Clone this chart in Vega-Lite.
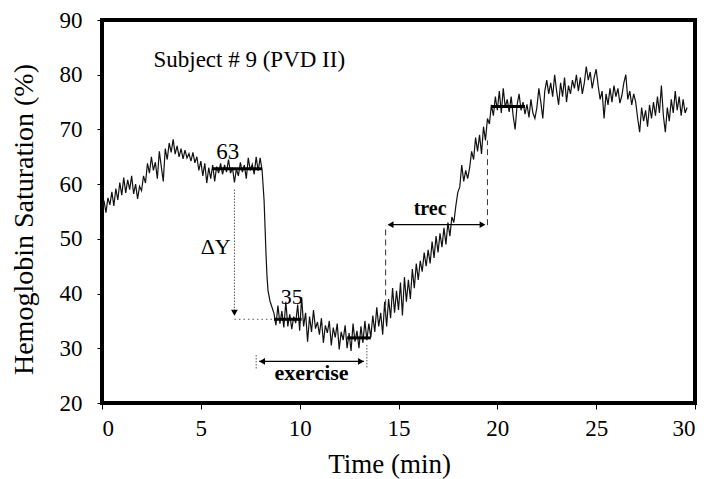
{
  "$schema": "https://vega.github.io/schema/vega-lite/v6.json",
  "width": 593,
  "height": 383,
  "autosize": "none",
  "padding": {"left": 102, "top": 20, "right": 17, "bottom": 76},
  "background": "white",
  "config": {
    "view": {"stroke": "black", "strokeWidth": 4},
    "font": "Liberation Serif, Times New Roman, serif",
    "text": {"font": "Liberation Serif, Times New Roman, serif"},
    "axis": {"domain": false, "grid": false, "tickColor": "black", "labelColor": "black", "titleColor": "black", "labelFont": "Liberation Serif, Times New Roman, serif", "titleFont": "Liberation Serif, Times New Roman, serif", "titleFontWeight": "normal"}
  },
  "datasets": {
    "trace": [
      {"t":0.0,"v":55.5},{"t":0.1,"v":57.0},{"t":0.2,"v":54.8},{"t":0.3,"v":57.5},{"t":0.4,"v":56.2},{"t":0.5,"v":58.6},{"t":0.6,"v":56.0},{"t":0.7,"v":59.2},{"t":0.8,"v":57.1},{"t":0.9,"v":60.3},
      {"t":1.0,"v":58.0},{"t":1.1,"v":61.2},{"t":1.2,"v":58.4},{"t":1.3,"v":60.8},{"t":1.4,"v":59.0},{"t":1.5,"v":61.5},{"t":1.6,"v":58.2},{"t":1.7,"v":60.0},{"t":1.8,"v":57.3},{"t":1.9,"v":59.6},
      {"t":2.0,"v":58.8},{"t":2.1,"v":61.5},{"t":2.2,"v":60.2},{"t":2.3,"v":63.8},{"t":2.4,"v":62.0},{"t":2.5,"v":65.0},{"t":2.6,"v":62.5},{"t":2.7,"v":64.0},{"t":2.8,"v":61.0},{"t":2.9,"v":66.0},
      {"t":3.0,"v":63.2},{"t":3.1,"v":60.5},{"t":3.2,"v":66.5},{"t":3.3,"v":64.5},{"t":3.4,"v":67.5},{"t":3.5,"v":65.8},{"t":3.6,"v":68.2},{"t":3.7,"v":65.5},{"t":3.8,"v":67.0},{"t":3.9,"v":65.0},
      {"t":4.0,"v":66.5},{"t":4.1,"v":64.6},{"t":4.2,"v":66.2},{"t":4.3,"v":64.8},{"t":4.4,"v":65.6},{"t":4.5,"v":64.2},{"t":4.6,"v":65.8},{"t":4.7,"v":63.9},{"t":4.8,"v":65.0},{"t":4.9,"v":62.5},
      {"t":5.0,"v":64.2},{"t":5.1,"v":61.5},{"t":5.2,"v":63.8},{"t":5.3,"v":60.2},{"t":5.4,"v":63.0},{"t":5.5,"v":61.0},{"t":5.6,"v":63.5},{"t":5.7,"v":60.5},{"t":5.8,"v":63.2},{"t":5.9,"v":62.0},
      {"t":6.0,"v":63.8},{"t":6.1,"v":61.8},{"t":6.2,"v":63.5},{"t":6.3,"v":62.2},{"t":6.4,"v":64.5},{"t":6.5,"v":62.0},{"t":6.6,"v":63.0},{"t":6.7,"v":60.3},{"t":6.8,"v":62.8},{"t":6.9,"v":61.5},
      {"t":7.0,"v":64.0},{"t":7.1,"v":62.2},{"t":7.2,"v":63.5},{"t":7.3,"v":61.0},{"t":7.4,"v":64.8},{"t":7.5,"v":62.5},{"t":7.6,"v":63.6},{"t":7.7,"v":61.8},{"t":7.8,"v":65.0},{"t":7.9,"v":62.4},
      {"t":8.0,"v":64.8},{"t":8.1,"v":62.5},{"t":8.2,"v":57.0},{"t":8.25,"v":52.0},{"t":8.3,"v":47.0},{"t":8.35,"v":43.0},{"t":8.4,"v":40.5},{"t":8.5,"v":38.6},{"t":8.6,"v":37.5},{"t":8.7,"v":36.4},{"t":8.8,"v":34.2},{"t":8.9,"v":37.8},
      {"t":9.0,"v":34.5},{"t":9.1,"v":36.8},{"t":9.2,"v":33.8},{"t":9.3,"v":38.5},{"t":9.4,"v":34.0},{"t":9.5,"v":36.2},{"t":9.6,"v":33.5},{"t":9.7,"v":35.8},{"t":9.8,"v":34.6},{"t":9.9,"v":38.0},
      {"t":10.0,"v":33.2},{"t":10.1,"v":39.3},{"t":10.2,"v":34.0},{"t":10.3,"v":36.5},{"t":10.4,"v":31.2},{"t":10.5,"v":35.8},{"t":10.6,"v":33.0},{"t":10.7,"v":37.0},{"t":10.8,"v":33.6},{"t":10.9,"v":34.8},
      {"t":11.0,"v":32.5},{"t":11.1,"v":35.5},{"t":11.2,"v":31.0},{"t":11.3,"v":34.2},{"t":11.4,"v":32.8},{"t":11.5,"v":35.0},{"t":11.6,"v":30.5},{"t":11.7,"v":33.8},{"t":11.8,"v":32.0},{"t":11.9,"v":34.5},
      {"t":12.0,"v":29.8},{"t":12.1,"v":33.0},{"t":12.2,"v":31.5},{"t":12.3,"v":34.2},{"t":12.4,"v":30.0},{"t":12.5,"v":32.8},{"t":12.6,"v":29.5},{"t":12.7,"v":34.5},{"t":12.8,"v":31.2},{"t":12.9,"v":33.2},
      {"t":13.0,"v":30.0},{"t":13.1,"v":34.0},{"t":13.2,"v":31.0},{"t":13.3,"v":35.0},{"t":13.4,"v":31.5},{"t":13.5,"v":34.5},{"t":13.6,"v":32.0},{"t":13.7,"v":36.0},{"t":13.8,"v":33.0},{"t":13.9,"v":37.5},
      {"t":14.0,"v":34.0},{"t":14.1,"v":36.5},{"t":14.2,"v":32.5},{"t":14.3,"v":38.5},{"t":14.4,"v":34.0},{"t":14.5,"v":39.0},{"t":14.6,"v":35.5},{"t":14.7,"v":41.0},{"t":14.8,"v":36.5},{"t":14.9,"v":40.5},
      {"t":15.0,"v":37.0},{"t":15.1,"v":42.0},{"t":15.2,"v":36.0},{"t":15.3,"v":43.0},{"t":15.4,"v":38.5},{"t":15.5,"v":42.5},{"t":15.6,"v":39.0},{"t":15.7,"v":44.5},{"t":15.8,"v":41.0},{"t":15.9,"v":45.5},
      {"t":16.0,"v":42.5},{"t":16.1,"v":46.0},{"t":16.2,"v":44.0},{"t":16.3,"v":47.5},{"t":16.4,"v":45.0},{"t":16.5,"v":48.0},{"t":16.6,"v":45.5},{"t":16.7,"v":49.5},{"t":16.8,"v":46.5},{"t":16.9,"v":50.5},
      {"t":17.0,"v":47.5},{"t":17.1,"v":51.0},{"t":17.2,"v":48.5},{"t":17.3,"v":52.0},{"t":17.4,"v":49.0},{"t":17.5,"v":53.0},{"t":17.6,"v":50.5},{"t":17.7,"v":54.0},{"t":17.8,"v":53.0},{"t":17.9,"v":56.0},
      {"t":18.0,"v":58.5},{"t":18.1,"v":59.5},{"t":18.2,"v":63.5},{"t":18.3,"v":60.5},{"t":18.4,"v":62.5},{"t":18.5,"v":61.0},{"t":18.6,"v":63.0},{"t":18.7,"v":66.0},{"t":18.8,"v":64.5},{"t":18.9,"v":68.5},
      {"t":19.0,"v":66.0},{"t":19.1,"v":69.0},{"t":19.2,"v":65.5},{"t":19.3,"v":70.5},{"t":19.4,"v":68.0},{"t":19.5,"v":72.0},{"t":19.6,"v":71.0},{"t":19.7,"v":74.5},{"t":19.8,"v":72.5},{"t":19.9,"v":76.0},
      {"t":20.0,"v":73.5},{"t":20.1,"v":77.0},{"t":20.2,"v":73.0},{"t":20.3,"v":77.5},{"t":20.4,"v":74.0},{"t":20.5,"v":75.5},{"t":20.6,"v":73.2},{"t":20.7,"v":76.0},{"t":20.8,"v":72.5},{"t":20.9,"v":70.0},
      {"t":21.0,"v":74.5},{"t":21.1,"v":76.5},{"t":21.2,"v":73.5},{"t":21.3,"v":75.0},{"t":21.4,"v":72.8},{"t":21.5,"v":74.6},{"t":21.6,"v":72.2},{"t":21.7,"v":75.5},{"t":21.8,"v":73.0},{"t":21.9,"v":72.0},
      {"t":22.0,"v":74.0},{"t":22.1,"v":77.5},{"t":22.2,"v":75.0},{"t":22.3,"v":72.0},{"t":22.4,"v":77.0},{"t":22.5,"v":79.0},{"t":22.6,"v":76.5},{"t":22.7,"v":78.5},{"t":22.8,"v":76.0},{"t":22.9,"v":80.0},
      {"t":23.0,"v":77.0},{"t":23.1,"v":74.5},{"t":23.2,"v":78.5},{"t":23.3,"v":76.0},{"t":23.4,"v":79.5},{"t":23.5,"v":75.0},{"t":23.6,"v":78.0},{"t":23.7,"v":76.5},{"t":23.8,"v":79.0},{"t":23.9,"v":77.5},
      {"t":24.0,"v":80.0},{"t":24.1,"v":77.0},{"t":24.2,"v":79.5},{"t":24.3,"v":76.5},{"t":24.4,"v":78.5},{"t":24.5,"v":81.5},{"t":24.6,"v":79.0},{"t":24.7,"v":80.5},{"t":24.8,"v":77.5},{"t":24.9,"v":79.5},
      {"t":25.0,"v":81.0},{"t":25.1,"v":78.0},{"t":25.2,"v":75.5},{"t":25.3,"v":77.0},{"t":25.4,"v":72.0},{"t":25.5,"v":76.5},{"t":25.6,"v":74.5},{"t":25.7,"v":77.5},{"t":25.8,"v":75.0},{"t":25.9,"v":78.0},
      {"t":26.0,"v":76.0},{"t":26.1,"v":77.5},{"t":26.2,"v":74.8},{"t":26.3,"v":76.2},{"t":26.4,"v":78.5},{"t":26.5,"v":80.0},{"t":26.6,"v":75.5},{"t":26.7,"v":77.0},{"t":26.8,"v":74.5},{"t":26.9,"v":76.5},
      {"t":27.0,"v":75.0},{"t":27.1,"v":72.0},{"t":27.2,"v":69.5},{"t":27.3,"v":74.0},{"t":27.4,"v":71.5},{"t":27.5,"v":73.5},{"t":27.6,"v":70.5},{"t":27.7,"v":74.5},{"t":27.8,"v":72.0},{"t":27.9,"v":75.0},
      {"t":28.0,"v":72.5},{"t":28.1,"v":76.0},{"t":28.2,"v":73.0},{"t":28.3,"v":78.0},{"t":28.4,"v":72.5},{"t":28.5,"v":69.5},{"t":28.6,"v":74.0},{"t":28.7,"v":71.5},{"t":28.8,"v":75.5},{"t":28.9,"v":73.0},
      {"t":29.0,"v":77.0},{"t":29.1,"v":73.5},{"t":29.2,"v":76.0},{"t":29.3,"v":72.5},{"t":29.4,"v":75.5},{"t":29.5,"v":73.0},{"t":29.6,"v":74.0}
    ]
  },
  "layer": [
    {
      "data": {"name": "trace"},
      "mark": {"type": "line", "stroke": "#111", "strokeWidth": 1.2, "interpolate": "linear"},
      "encoding": {
        "x": {"field": "t", "type": "quantitative", "scale": {"domain": [0, 30], "nice": false, "zero": false},
          "axis": {"values": [0, 5, 10, 15, 20, 25, 30], "tickSize": 6, "tickWidth": 1, "labelFont": "Liberation Serif, Times New Roman, serif", "labelFontSize": 23, "labelPadding": 8, "title": "Time (min)", "titleFont": "Liberation Serif, Times New Roman, serif", "titleFontSize": 27, "titleX": 287, "titleY": 69, "titleBaseline": "alphabetic", "titleAlign": "center"}},
        "y": {"field": "v", "type": "quantitative", "scale": {"domain": [20, 90], "nice": false, "zero": false},
          "axis": {"values": [20, 30, 40, 50, 60, 70, 80, 90], "tickSize": 5, "tickWidth": 1, "labelFont": "Liberation Serif, Times New Roman, serif", "labelFontSize": 23, "labelPadding": 15, "title": "Hemoglobin Saturation (%)", "titleFont": "Liberation Serif, Times New Roman, serif", "titleFontSize": 28, "titleAngle": -90, "titleX": -70, "titleY": 199, "titleBaseline": "alphabetic", "titleAlign": "center"}}
      }
    },
    {
      "data": {"values": [
        {"t0": 5.6, "t1": 8.1, "v": 62.8},
        {"t0": 8.7, "t1": 10.1, "v": 35.3},
        {"t0": 12.4, "t1": 13.6, "v": 31.9},
        {"t0": 19.7, "t1": 21.4, "v": 74.2}
      ]},
      "mark": {"type": "rule", "stroke": "black", "strokeWidth": 3},
      "encoding": {
        "x": {"field": "t0", "type": "quantitative"},
        "x2": {"field": "t1"},
        "y": {"field": "v", "type": "quantitative"}
      }
    },
    {
      "data": {"values": [
        {"t": 14.35, "v0": 36.0, "v1": 52.5},
        {"t": 19.5, "v0": 52.5, "v1": 68.0}
      ]},
      "mark": {"type": "rule", "stroke": "#333", "strokeWidth": 1, "strokeDash": [6, 4]},
      "encoding": {
        "x": {"field": "t", "type": "quantitative"},
        "y": {"field": "v0", "type": "quantitative"},
        "y2": {"field": "v1"}
      }
    },
    {
      "data": {"values": [
        {"t": 6.7, "v0": 36.8, "v1": 59.0},
        {"t": 7.8, "v0": 26.3, "v1": 29.0},
        {"t": 13.4, "v0": 26.5, "v1": 30.8}
      ]},
      "mark": {"type": "rule", "stroke": "#555", "strokeWidth": 1, "strokeDash": [1.5, 1.5]},
      "encoding": {
        "x": {"field": "t", "type": "quantitative"},
        "y": {"field": "v0", "type": "quantitative"},
        "y2": {"field": "v1"}
      }
    },
    {
      "data": {"values": [
        {"t0": 6.7, "t1": 8.7, "v": 35.3}
      ]},
      "mark": {"type": "rule", "stroke": "#555", "strokeWidth": 1, "strokeDash": [1.5, 3]},
      "encoding": {
        "x": {"field": "t0", "type": "quantitative"},
        "x2": {"field": "t1"},
        "y": {"field": "v", "type": "quantitative"}
      }
    },
    {
      "data": {"values": [
        {"t0": 14.5, "t1": 19.3, "v": 52.6},
        {"t0": 7.95, "t1": 13.25, "v": 27.6}
      ]},
      "mark": {"type": "rule", "stroke": "black", "strokeWidth": 1.3},
      "encoding": {
        "x": {"field": "t0", "type": "quantitative"},
        "x2": {"field": "t1"},
        "y": {"field": "v", "type": "quantitative"}
      }
    },
    {
      "data": {"values": [
        {"t": 14.6, "v": 52.6, "dir": "triangle-left"},
        {"t": 19.25, "v": 52.6, "dir": "triangle-right"},
        {"t": 8.1, "v": 27.6, "dir": "triangle-left"},
        {"t": 13.1, "v": 27.6, "dir": "triangle-right"},
        {"t": 6.7, "v": 36.5, "dir": "triangle-down"}
      ]},
      "mark": {"type": "point", "filled": true, "color": "black", "size": 45, "opacity": 1},
      "encoding": {
        "x": {"field": "t", "type": "quantitative"},
        "y": {"field": "v", "type": "quantitative"},
        "shape": {"field": "dir", "type": "nominal", "scale": {"domain": ["triangle-left", "triangle-right", "triangle-down"], "range": ["triangle-left", "triangle-right", "triangle-down"]}, "legend": null}
      }
    },
    {
      "data": {"values": [
        {"t": 7.45, "v": 82.7, "label": "Subject # 9 (PVD II)", "size": 23},
        {"t": 6.36, "v": 65.9, "label": "63", "size": 23},
        {"t": 9.6, "v": 39.3, "label": "35", "size": 22},
        {"t": 5.75, "v": 48.6, "label": "ΔY", "size": 22}
      ]},
      "mark": {"type": "text", "font": "Liberation Serif, Times New Roman, serif", "color": "black", "align": "center", "baseline": "middle"},
      "encoding": {
        "x": {"field": "t", "type": "quantitative"},
        "y": {"field": "v", "type": "quantitative"},
        "text": {"field": "label"},
        "size": {"field": "size", "type": "quantitative", "scale": null}
      }
    },
    {
      "data": {"values": [
        {"t": 16.6, "v": 55.4, "label": "trec", "size": 20},
        {"t": 10.6, "v": 25.5, "label": "exercise", "size": 22}
      ]},
      "mark": {"type": "text", "font": "Liberation Serif, Times New Roman, serif", "fontWeight": "bold", "color": "black", "align": "center", "baseline": "middle"},
      "encoding": {
        "x": {"field": "t", "type": "quantitative"},
        "y": {"field": "v", "type": "quantitative"},
        "text": {"field": "label"},
        "size": {"field": "size", "type": "quantitative", "scale": null}
      }
    }
  ]
}
